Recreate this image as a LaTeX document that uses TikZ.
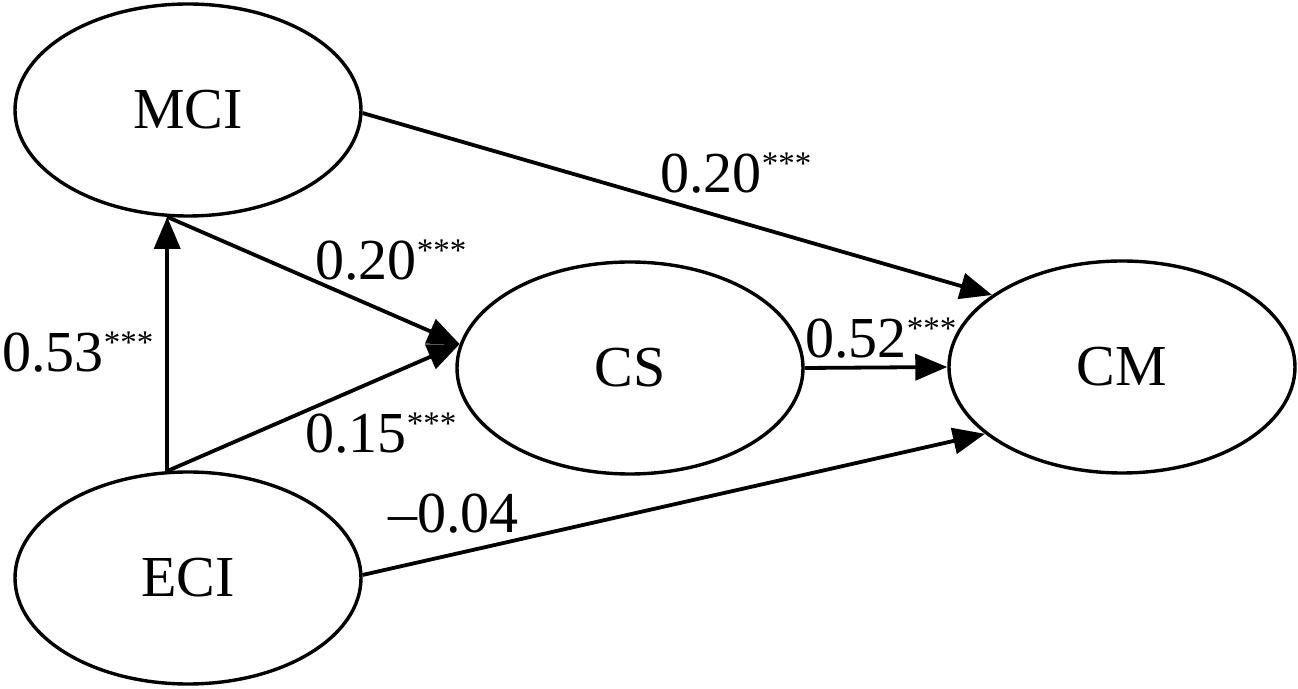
\documentclass[tikz,border=0pt]{standalone}
\usepackage{fontspec}
\setmainfont{Liberation Serif}
\usetikzlibrary{shapes.geometric,arrows.meta}
\newcommand{\stars}{\raisebox{9pt}{\fontsize{16.5}{16.5}\selectfont ***}}
\tikzset{
  latent/.style={ellipse, draw, line width=1.7pt, minimum width=173pt, minimum height=106pt, inner sep=0pt, font=\fontsize{29}{34}\selectfont},
  path/.style={line width=1.9pt, -{Triangle[length=16pt,width=13pt]}},
  coef/.style={anchor=base west, inner sep=0pt, font=\fontsize{29}{34}\selectfont}
}
\begin{document}
\begin{tikzpicture}[x=0.5pt,y=-0.5pt]
\useasboundingbox (0,0) rectangle (1298,689);
\node[latent] (mci) at (188,110) {MCI};
\node[latent] (eci) at (188,578) {ECI};
\node[latent] (cs) at (630,368) {CS};
\node[latent] (cm) at (1122,367) {CM};
\coordinate (je) at (eci.101);
\coordinate (jm) at (mci.259);
\coordinate (cin) at (cs.172);
\draw[path] (je) -- (jm);
\draw[path] (jm) -- (cin);
\draw[path] (je) -- (cin);
\draw[path] (mci.-1) -- (cm.151.8);
\draw[path] (cs.east) -- (cm.west);
\draw[path] (eci.1) -- (cm.206.4);
\node[coef] (l1) at (660,193) {0.20\stars};
\node[coef] (l2) at (315,280) {0.20\stars};
\node[coef] (l3) at (2,372) {0.53\stars};
\node[coef] (l4) at (305,453) {0.15\stars};
\node[coef] (l5) at (805,358) {0.52\stars};
\node[coef] (l6) at (388,533) {–0.04};
\end{tikzpicture}
\end{document}
